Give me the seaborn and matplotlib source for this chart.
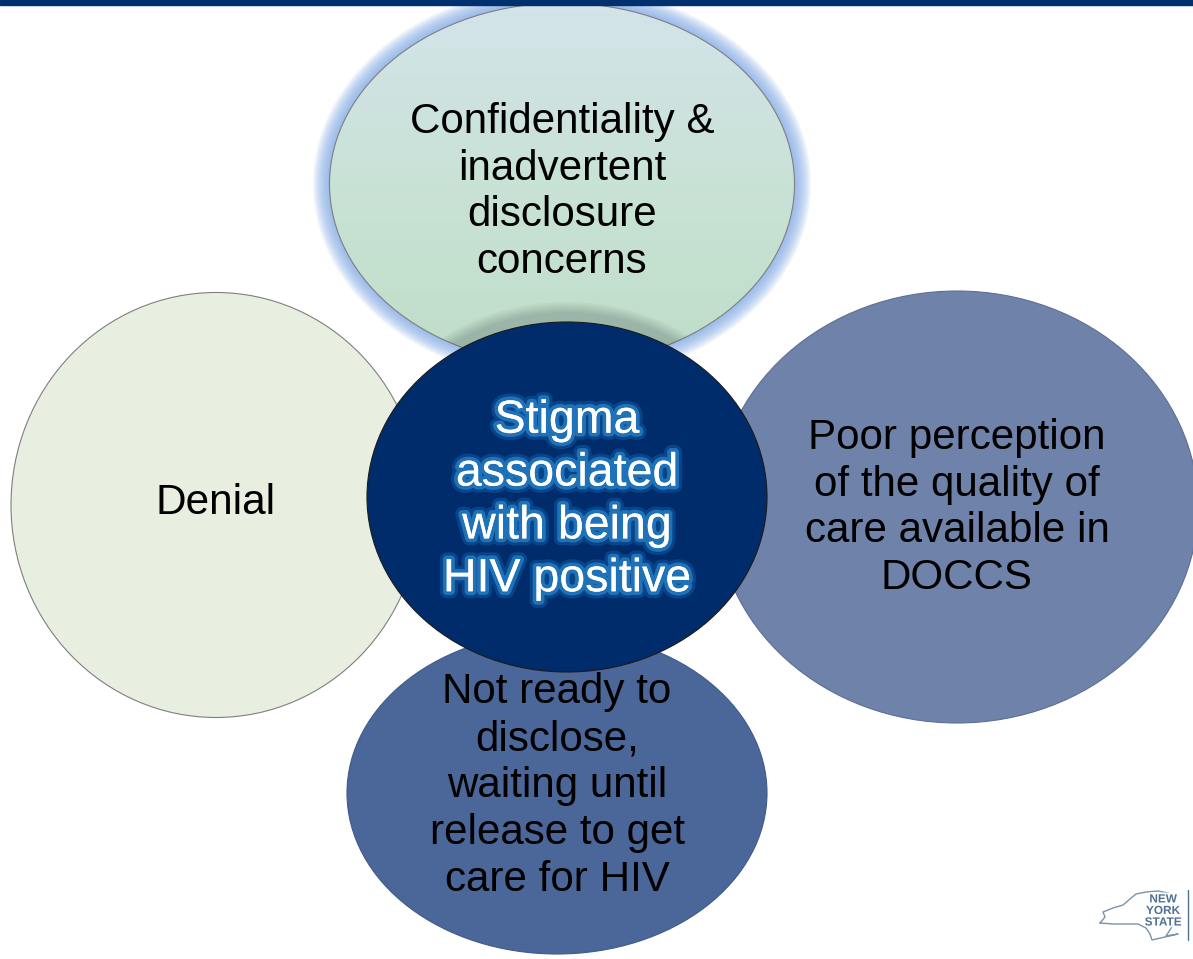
import numpy as np
import seaborn as sns
import matplotlib.pyplot as plt
import matplotlib.patheffects as pe
from matplotlib.patches import Ellipse
from matplotlib.colors import LinearSegmentedColormap

sns.set_theme(style='white')
plt.rcParams['font.family'] = ['Liberation Sans', 'DejaVu Sans']

# the five bubbles: label text
center_label = 'Stigma\nassociated\nwith being\nHIV positive'
top_label = 'Confidentiality &\ninadvertent\ndisclosure\nconcerns'
left_label = 'Denial'
right_label = 'Poor perception\nof the quality of\ncare available in\nDOCCS'
bottom_label = 'Not ready to\ndisclose,\nwaiting until\nrelease to get\ncare for HIV'

W, H = 1193, 959
fig = plt.figure(figsize=(W / 100, H / 100), dpi=100)
ax = fig.add_axes([0, 0, 1, 1])
ax.set_xlim(0, W)
ax.set_ylim(H, 0)
ax.set_aspect('equal')
ax.axis('off')

# header bar
ax.axhspan(0, 4.5, color='#00306e', zorder=10)

edge = dict(edgecolor='#7f7f7f', linewidth=0.8)

# soft blue glow round the top bubble
tx, ty, tw, th = 562, 184, 465, 362
for k in range(14):
    g = Ellipse((tx, ty), tw + 2 + 2.4 * k, th + 2 + 2.4 * k, facecolor='#7fa9e6',
                edgecolor='none', alpha=0.09, zorder=1)
    ax.add_patch(g)

top = Ellipse((tx, ty), tw, th, facecolor='none', **edge, zorder=3)
ax.add_patch(top)
grad = np.linspace(0, 1, 256).reshape(-1, 1)
cmap = LinearSegmentedColormap.from_list('topfill', ['#d3e4ea', '#c9e2d6', '#bfdec7'])
im = ax.imshow(grad, cmap=cmap, extent=(tx - tw / 2, tx + tw / 2, ty + th / 2, ty - th / 2),
               aspect='auto', zorder=2)
im.set_clip_path(top)
ax.set_xlim(0, W)
ax.set_ylim(H, 0)

ax.add_patch(Ellipse((216, 505), 410, 425, facecolor='#e8efe0', **edge, zorder=4))
ax.add_patch(Ellipse((957, 507), 482, 432, facecolor='#6f82aa', edgecolor='#5d6f96',
                     linewidth=0.8, zorder=5))
ax.add_patch(Ellipse((557, 793), 420, 322, facecolor='#4b6698', edgecolor='#3f5a8a',
                     linewidth=0.8, zorder=6))

# faint shade the centre bubble casts on the top one
for k in range(6):
    sh = Ellipse((567, 490), 404 + 4 * k, 356 + 4 * k, facecolor='#2a3a40',
                 edgecolor='none', alpha=0.045, zorder=3.5)
    ax.add_patch(sh)
    sh.set_clip_path(top)
ax.add_patch(Ellipse((567, 497), 400, 350, facecolor='#002c6c', edgecolor='#1a1a1a',
                     linewidth=0.8, zorder=7))

body = dict(ha='center', va='center', color='black', fontsize=30.3, linespacing=1.22, zorder=9)
ax.text(562, 192, top_label, **body)
ax.text(957, 508, right_label, **body)
ax.text(557, 786, bottom_label, **body)
ax.text(216, 503, left_label, ha='center', va='center', color='black', fontsize=30.5, zorder=9)

ax.text(567, 500, center_label, ha='center', va='center', color='white', fontsize=33.5,
        linespacing=1.26, zorder=9,
        path_effects=[pe.withStroke(linewidth=10, foreground='#0b4f96', alpha=0.7),
                      pe.withStroke(linewidth=5.5, foreground='#1f72b8'),
                      pe.Normal()])

# New York State logo, bottom right
ny_x = [1100, 1105, 1103, 1113, 1123, 1130, 1136, 1146, 1158, 1168, 1172, 1173, 1174,
        1170, 1166, 1178, 1152, 1150, 1146, 1138, 1113, 1100]
ny_y = [923, 917, 912, 908, 905, 899, 894, 892, 891, 893, 897, 908, 922, 930, 936,
        934, 940, 934, 928, 924, 924, 923]
ax.plot(ny_x, ny_y, color='#7b93aa', linewidth=1.0, zorder=9)
ax.text(1163, 911, 'NEW\nYORK\nSTATE', ha='center', va='center', color='#4f7191',
        fontsize=8.5, fontweight='bold', linespacing=0.95, zorder=10,
        path_effects=[pe.withStroke(linewidth=2.5, foreground='white')])
ax.plot([1188, 1188], [890, 940], color='#4f7191', linewidth=1.0, zorder=9)

fig.savefig('out.png', dpi=100)
